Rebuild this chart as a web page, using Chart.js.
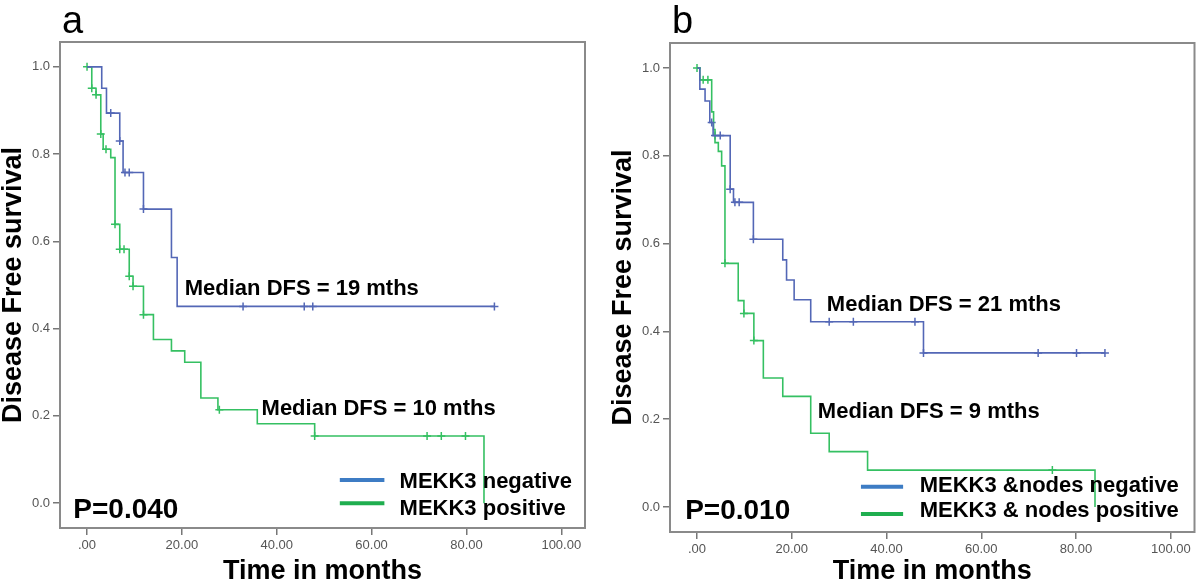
<!DOCTYPE html>
<html>
<head>
<meta charset="utf-8">
<script src="https://cdn.jsdelivr.net/npm/chart.js@4.4.0/dist/chart.umd.min.js"></script>
<style>
  body { margin: 0; background: #fff; }
  #wrap { position: relative; width: 1200px; height: 585px; }
  canvas { position: absolute; top: 0; }
</style>
</head>
<body>
<div id="wrap">
  <canvas id="chartA" width="600" height="585" style="left:0"></canvas>
  <canvas id="chartB" width="600" height="585" style="left:600px"></canvas>
</div>
<script>
// axis ticks (months / survival)
const xTicks = [0, 20, 40, 60, 80, 100];
const yTicks = [0, 0.2, 0.4, 0.6, 0.8, 1.0];

// panel a : MEKK3 negative
const aNegTime = [0, 3.1, 4.1, 6.9, 7.6, 11.9, 17.8, 19.0, 86.0];
const aNegSurv = [1.0, 0.951, 0.894, 0.83, 0.758, 0.674, 0.563, 0.451, 0.451];
const aNegCens = [5.0, 6.9, 8.0, 8.9, 11.9, 32.9, 45.8, 47.6, 85.9];

// panel a : MEKK3 positive
const aPosTime = [0, 1.0, 1.9, 2.9, 3.4, 5.0, 5.9, 6.9, 8.9, 9.7, 11.9, 14.0, 17.8, 20.6, 24.0, 27.6, 35.9, 48.0, 83.7];
const aPosSurv = [1.0, 0.951, 0.936, 0.846, 0.811, 0.792, 0.639, 0.582, 0.52, 0.497, 0.432, 0.375, 0.349, 0.323, 0.241, 0.214, 0.182, 0.154, 0.0];
const aPosCens = [0, 1.0, 1.9, 2.9, 4.0, 5.9, 6.9, 7.8, 8.9, 9.7, 11.9, 27.9, 48.0, 71.7, 74.7, 79.8];

// panel b : MEKK3 & nodes negative
const bNegTime = [0, 0.6, 1.7, 2.7, 3.4, 7.0, 7.7, 11.9, 18.1, 18.9, 20.5, 24.0, 47.8, 86.1];
const bNegSurv = [1.0, 0.952, 0.925, 0.876, 0.846, 0.724, 0.694, 0.61, 0.563, 0.517, 0.472, 0.422, 0.351, 0.351];
const bNegCens = [3.1, 3.8, 4.9, 7.0, 8.0, 8.9, 11.9, 27.9, 33.0, 46.0, 47.8, 72.0, 80.1, 86.1];

// panel b : MEKK3 & nodes positive
const bPosTime = [0, 0.6, 3.1, 3.5, 3.8, 4.5, 5.2, 5.9, 8.7, 9.9, 12.0, 14.0, 18.1, 24.0, 27.9, 36.0, 84.0];
const bPosSurv = [1.0, 0.973, 0.90, 0.86, 0.83, 0.81, 0.777, 0.555, 0.47, 0.441, 0.379, 0.294, 0.252, 0.168, 0.126, 0.084, 0.0];
const bPosCens = [0, 1.3, 2.3, 5.9, 9.9, 12.0, 75.0];

const BLUE = '#5367b6';
const GREEN = '#35c062';
const FONT = '"Liberation Sans", Arial, sans-serif';

function kmPoints(times, surv) {
  return times.map((t, i) => ({ x: t, y: surv[i] }));
}

// survival level of the curve at a censoring time
function censPoints(cens, times, surv) {
  return cens.map(t => {
    let k = 0;
    for (let i = 0; i < times.length; i++) if (times[i] <= t + 1e-9) k = i;
    return { x: t, y: surv[k] };
  });
}

const panelDeco = {
  id: 'panelDeco',
  beforeDatasetsDraw(chart) {
    const { ctx, chartArea: ca } = chart;
    ctx.save();
    ctx.strokeStyle = '#8a8a8a';
    ctx.lineWidth = 2;
    ctx.strokeRect(ca.left, ca.top, ca.right - ca.left, ca.bottom - ca.top);
    ctx.restore();
  },
  afterDraw(chart, args, o) {
    const { ctx, chartArea: ca, scales: { x, y } } = chart;
    ctx.save();
    ctx.fillStyle = '#000';
    ctx.textBaseline = 'alphabetic';
    ctx.textAlign = 'left';

    ctx.font = '38px ' + FONT;
    ctx.fillText(o.letter, ca.left + o.letterDx, 33);

    ctx.font = 'bold 22px ' + FONT;
    o.notes.forEach(n => ctx.fillText(n.text, x.getPixelForValue(n.x), y.getPixelForValue(n.y)));

    ctx.font = 'bold 28px ' + FONT;
    ctx.fillText(o.p.text, x.getPixelForValue(o.p.x), y.getPixelForValue(o.p.y));

    // legend
    const lg = o.legend;
    ctx.font = 'bold 22px ' + FONT;
    lg.items.forEach(it => {
      ctx.strokeStyle = it.color;
      ctx.lineWidth = 4;
      ctx.beginPath();
      const ly = y.getPixelForValue(it.lineY);
      ctx.moveTo(x.getPixelForValue(lg.x0), ly);
      ctx.lineTo(x.getPixelForValue(lg.x1), ly);
      ctx.stroke();
      ctx.fillText(it.text, x.getPixelForValue(lg.tx), y.getPixelForValue(it.textY));
    });
    ctx.restore();
  }
};

function makeChart(id, d, deco, dims) {
  const datasets = [
    { data: kmPoints(d.negT, d.negS), showLine: true, stepped: true, borderColor: BLUE, borderWidth: 1.6, pointRadius: 0 },
    { data: kmPoints(d.posT, d.posS), showLine: true, stepped: true, borderColor: GREEN, borderWidth: 1.6, pointRadius: 0 },
    { data: censPoints(d.negC, d.negT, d.negS), showLine: false, pointStyle: 'cross', pointRadius: 4, borderColor: BLUE, borderWidth: 1.5 },
    { data: censPoints(d.posC, d.posT, d.posS), showLine: false, pointStyle: 'cross', pointRadius: 4, borderColor: GREEN, borderWidth: 1.5 }
  ];
  return new Chart(document.getElementById(id), {
    type: 'scatter',
    data: { datasets },
    plugins: [panelDeco],
    options: {
      responsive: false,
      animation: false,
      events: [],
      layout: { padding: { top: dims.top, right: dims.right, left: 0, bottom: 0 } },
      plugins: {
        legend: { display: false },
        tooltip: { enabled: false },
        panelDeco: deco
      },
      scales: {
        x: {
          type: 'linear',
          min: -5.7, max: 105,
          afterBuildTicks: s => { s.ticks = xTicks.map(v => ({ value: v })); },
          afterFit: s => { s.height = dims.xh; },
          border: { display: false },
          grid: { drawOnChartArea: false, drawTicks: true, tickLength: 7, color: '#777', lineWidth: 1.5 },
          ticks: {
            color: '#555', padding: 3, maxRotation: 0,
            font: { family: FONT, size: 13 },
            callback: v => v === 0 ? '.00' : v.toFixed(2)
          },
          title: {
            display: true, text: 'Time in months', color: '#000',
            font: { family: FONT, size: 27, weight: 'bold', lineHeight: 1 },
            padding: { top: 0, bottom: 0 }
          }
        },
        y: {
          type: 'linear',
          min: -0.057, max: 1.057,
          afterBuildTicks: s => { s.ticks = yTicks.map(v => ({ value: v })); },
          afterFit: s => { s.width = dims.yw; },
          border: { display: false },
          grid: { drawOnChartArea: false, drawTicks: true, tickLength: 7, color: '#777', lineWidth: 1.5 },
          ticks: {
            color: '#555', padding: 3,
            font: { family: FONT, size: 13 },
            callback: v => v.toFixed(1)
          },
          title: {
            display: true, text: 'Disease Free survival', color: '#000',
            font: { family: FONT, size: 27, weight: 'bold', lineHeight: 1 },
            padding: { top: dims.titlePad, bottom: 0 }
          }
        }
      }
    }
  });
}

makeChart('chartA',
  { negT: aNegTime, negS: aNegSurv, negC: aNegCens, posT: aPosTime, posS: aPosSurv, posC: aPosCens },
  {
    letter: 'a', letterDx: 2,
    notes: [
      { text: 'Median DFS = 19 mths', x: 20.6, y: 0.478 },
      { text: 'Median DFS = 10 mths', x: 36.8, y: 0.202 }
    ],
    p: { text: 'P=0.040', x: -2.9, y: -0.034 },
    legend: {
      x0: 53.3, x1: 62.7, tx: 65.9,
      items: [
        { text: 'MEKK3 negative', color: '#3d7cc4', lineY: 0.053, textY: 0.034 },
        { text: 'MEKK3 positive', color: '#1fae4f', lineY: 0.0, textY: -0.028 }
      ]
    }
  },
  { top: 42, right: 15, yw: 60, xh: 57, titlePad: 0 });

makeChart('chartB',
  { negT: bNegTime, negS: bNegSurv, negC: bNegCens, posT: bPosTime, posS: bPosSurv, posC: bPosCens },
  {
    letter: 'b', letterDx: 2,
    notes: [
      { text: 'Median DFS = 21 mths', x: 27.4, y: 0.446 },
      { text: 'Median DFS = 9 mths', x: 25.5, y: 0.203 }
    ],
    p: { text: 'P=0.010', x: -2.5, y: -0.027 },
    legend: {
      x0: 34.6, x1: 43.5, tx: 47.0,
      items: [
        { text: 'MEKK3 &nodes negative', color: '#3d7cc4', lineY: 0.046, textY: 0.034 },
        { text: 'MEKK3 & nodes positive', color: '#1fae4f', lineY: -0.016, textY: -0.023 }
      ]
    }
  },
  { top: 43, right: 5, yw: 70, xh: 53, titlePad: 10 });
</script>
</body>
</html>
